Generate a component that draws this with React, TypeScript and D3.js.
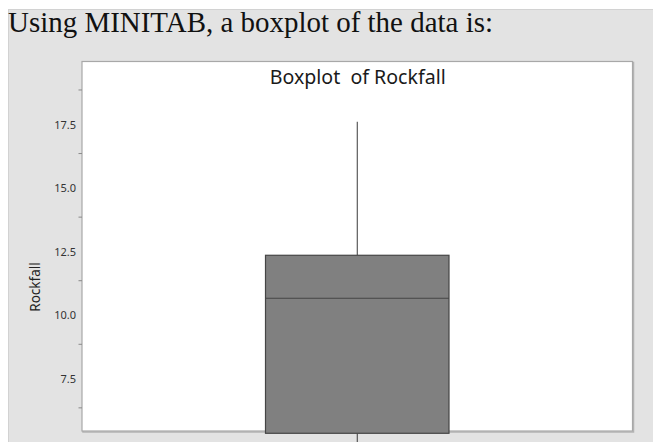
import React from "react";
import * as d3 from "d3";

const heading = "Using MINITAB, a boxplot of the data is:";
const chartTitle = "Boxplot  of Rockfall";
const yLabel = "Rockfall";
const tickLabels = [7.5, 10.0, 12.5, 15.0, 17.5];
const minorTicks = [6.25, 8.75, 11.25, 13.75, 16.25, 18.75];
// five-number summary
const stats = { min: 3.5, q1: 5.25, median: 10.56, q3: 12.25, max: 17.5 };

const W = 653;
const H = 442;
const plot = { left: 82, right: 632.5, top: 61.5, bottom: 431 };

export default function App() {
  const y = d3
    .scaleLinear()
    .domain([5.34, 19.87])
    .range([plot.bottom, plot.top]);
  const x = d3
    .scaleBand<string>()
    .domain(["Rockfall"])
    .range([plot.left, plot.right])
    .paddingInner(0)
    .paddingOuter(1);
  const cx = (x("Rockfall") as number) + x.bandwidth() / 2;
  const bw = x.bandwidth();
  const fmt = d3.format(".1f");

  return (
    <svg
      width={W}
      height={H}
      style={{ position: "absolute", left: 0, top: 0, display: "block" }}
    >
      <rect x={0} y={0} width={W} height={H} fill="#ffffff" />
      <rect x={8} y={9} width={W - 8} height={H - 9} fill="#e3e3e3" />
      <line x1={8.5} y1={9} x2={8.5} y2={H} stroke="#d2d2d2" strokeWidth={1} />
      <line x1={8} y1={9.5} x2={W} y2={9.5} stroke="#d2d2d2" strokeWidth={1} />
      <text
        x={8}
        y={32}
        fontFamily="'Liberation Serif', 'Times New Roman', serif"
        fontSize={29}
        fill="#111"
        textLength={485}
        lengthAdjust="spacingAndGlyphs"
      >
        {heading}
      </text>

      {/* plot area */}
      <rect
        x={plot.left + 1}
        y={plot.top + 1}
        width={plot.right - plot.left}
        height={plot.bottom - plot.top}
        fill="none"
        stroke="#b4b4b4"
        strokeWidth={1.5}
      />
      <rect
        x={plot.left}
        y={plot.top}
        width={plot.right - plot.left}
        height={plot.bottom - plot.top}
        fill="#ffffff"
        stroke="#a8a8a8"
        strokeWidth={1.2}
      />

      <text
        x={(plot.left + plot.right) / 2 + 0.5}
        y={84.3}
        textAnchor="middle"
        fontFamily="'Noto Sans', 'Open Sans', sans-serif"
        fontSize={19}
        fill="#1a1a1a"
        textLength={176}
        lengthAdjust="spacingAndGlyphs"
        style={{ whiteSpace: "pre" }}
      >
        {chartTitle}
      </text>

      {/* y axis ticks */}
      {minorTicks.map((t) => (
        <line
          key={"t" + t}
          x1={plot.left - 3.5}
          x2={plot.left}
          y1={y(t)}
          y2={y(t)}
          stroke="#8a8a8a"
          strokeWidth={1}
        />
      ))}
      {tickLabels.map((t) => (
        <text
          key={"l" + t}
          x={76}
          y={y(t)}
          dy={3 + 4}
          textAnchor="end"
          fontFamily="'Noto Sans', 'Open Sans', sans-serif"
          fontSize={11}
          fill="#333"
        >
          {fmt(t)}
        </text>
      ))}
      <text
        transform={`translate(40,287) rotate(-90)`}
        textAnchor="middle"
        fontFamily="'Noto Sans', 'Open Sans', sans-serif"
        fontSize={13.5}
        fill="#222"
      >
        {yLabel}
      </text>

      {/* whiskers */}
      <line
        x1={cx}
        x2={cx}
        y1={y(stats.max)}
        y2={y(stats.q3)}
        stroke="#3a3a3a"
        strokeWidth={1}
      />
      <line
        x1={cx}
        x2={cx}
        y1={y(stats.q1)}
        y2={y(stats.min)}
        stroke="#3a3a3a"
        strokeWidth={1}
      />
      {/* box */}
      <rect
        x={cx - bw / 2}
        y={y(stats.q3)}
        width={bw}
        height={y(stats.q1) - y(stats.q3)}
        fill="#808080"
        stroke="#454545"
        strokeWidth={1.2}
      />
      <line
        x1={cx - bw / 2}
        x2={cx + bw / 2}
        y1={y(stats.median)}
        y2={y(stats.median)}
        stroke="#454545"
        strokeWidth={1.2}
      />
    </svg>
  );
}
